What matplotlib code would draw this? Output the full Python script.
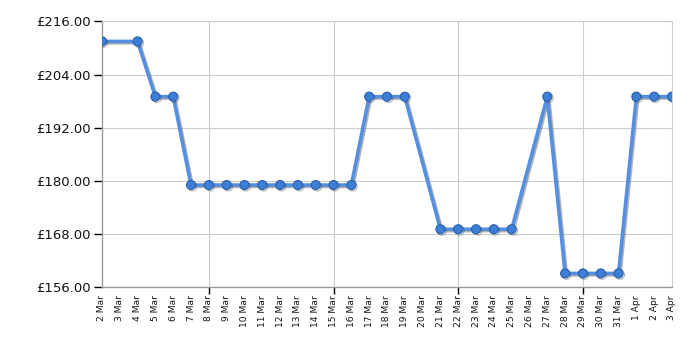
import matplotlib
matplotlib.use("Agg")
import matplotlib.pyplot as plt
import matplotlib.patheffects as pe

# Day labels on the x axis (2 Mar .. 3 Apr)
day_labels = [f"{d} Mar" for d in range(2, 32)] + ["1 Apr", "2 Apr", "3 Apr"]
# Dates with a price
point_days = ["2 Mar", "4 Mar", "5 Mar", "6 Mar", "7 Mar", "8 Mar", "9 Mar", "10 Mar",
              "11 Mar", "12 Mar", "13 Mar", "14 Mar", "15 Mar", "16 Mar", "17 Mar",
              "18 Mar", "19 Mar", "21 Mar", "22 Mar", "23 Mar", "24 Mar", "25 Mar",
              "27 Mar", "28 Mar", "29 Mar", "30 Mar", "31 Mar", "1 Apr", "2 Apr", "3 Apr"]
prices = [211.49, 211.49, 198.99, 198.99, 178.99, 178.99, 178.99, 178.99,
          178.99, 178.99, 178.99, 178.99, 178.99, 178.99, 198.99,
          198.99, 198.99, 168.99, 168.99, 168.99, 168.99, 168.99,
          198.99, 158.99, 158.99, 158.99, 158.99, 198.99, 198.99, 198.99]
y_ticks = [156, 168, 180, 192, 204, 216]
grid_days = ["8 Mar", "15 Mar", "22 Mar", "29 Mar"]

fig = plt.figure(figsize=(7, 3.5), dpi=100)
ax = fig.add_axes([0.1457, 0.181, 0.8143, 0.7576])

xs = [day_labels.index(d) for d in point_days]
line, = ax.plot(xs, prices, color="#5590e0", lw=2.6, marker="o", markersize=6.5,
                markerfacecolor="#3d7fd6", markeredgecolor="#2a5fa8", markeredgewidth=0.8,
                zorder=5, solid_joinstyle="round")
line.set_path_effects([pe.SimpleLineShadow(offset=(1.0, -1.0), shadow_color="#555555", alpha=0.45),
                       pe.Normal()])

ax.set_xlim(0, len(day_labels) - 1)
ax.set_ylim(156, 216)

ax.set_yticks(y_ticks)
ax.set_yticklabels([f"£{v:.2f}" for v in y_ticks], fontsize=9.5, color="#111111")

ax.xaxis.remove_overlapping_locs = False
ax.set_xticks(range(len(day_labels)))
ax.set_xticklabels(day_labels, rotation=90, fontsize=6.6, color="#111111")
ax.tick_params(axis="x", which="major", length=0, pad=6)
grid_idx = [day_labels.index(d) for d in grid_days]
ax.set_xticks(grid_idx, minor=True)
ax.tick_params(axis="x", which="minor", length=5, width=1, color="black", direction="out")
ax.tick_params(axis="y", length=6, width=1, color="black", direction="out", pad=2)

ax.grid(True, axis="y", which="major", color="#cccccc", lw=0.8, zorder=0)
ax.grid(True, axis="x", which="minor", color="#cccccc", lw=0.8, zorder=0)
ax.grid(False, axis="x", which="major")
for side in ["top", "right"]:
    ax.spines[side].set_color("#cccccc")
    ax.spines[side].set_linewidth(0.8)
for side in ["left", "bottom"]:
    ax.spines[side].set_color("#999999")
    ax.spines[side].set_linewidth(1.0)

fig.savefig("out.png", dpi=100, facecolor="white")
